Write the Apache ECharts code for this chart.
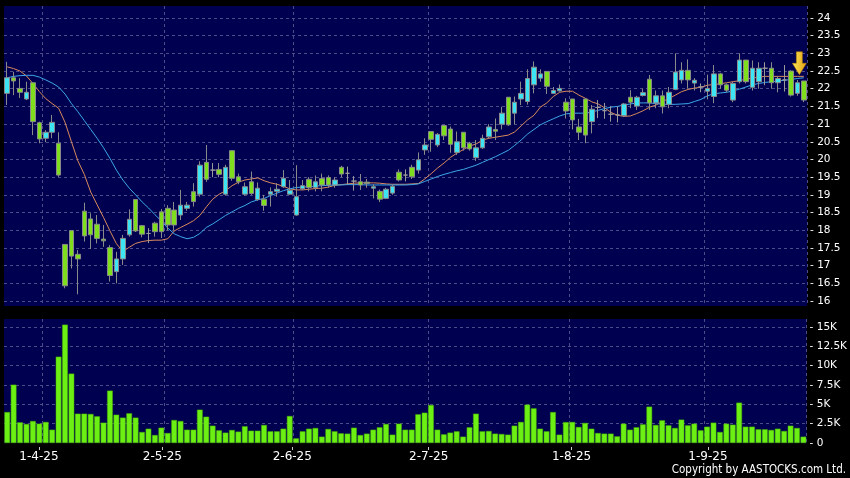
<!DOCTYPE html>
<html><head><meta charset="utf-8">
<script src="https://cdn.jsdelivr.net/npm/echarts@6/dist/echarts.min.js"></script>
<style>html,body{margin:0;padding:0;background:#000;}#c{width:850px;height:478px;}</style>
</head><body><div id="c"></div>
<script>
const dates = [
'24-3-25','25-3-25','26-3-25','27-3-25','28-3-25','31-3-25',
'1-4-25','2-4-25','3-4-25','7-4-25','8-4-25','9-4-25','10-4-25','11-4-25','14-4-25','15-4-25','16-4-25','17-4-25','22-4-25','23-4-25','24-4-25','25-4-25','28-4-25','29-4-25','30-4-25',
'2-5-25','6-5-25','7-5-25','8-5-25','9-5-25','12-5-25','13-5-25','14-5-25','15-5-25','16-5-25','19-5-25','20-5-25','21-5-25','22-5-25','23-5-25','26-5-25','27-5-25','28-5-25','29-5-25','30-5-25',
'2-6-25','3-6-25','4-6-25','5-6-25','6-6-25','9-6-25','10-6-25','11-6-25','12-6-25','13-6-25','16-6-25','17-6-25','18-6-25','19-6-25','20-6-25','23-6-25','24-6-25','25-6-25','26-6-25','27-6-25','30-6-25',
'2-7-25','3-7-25','4-7-25','7-7-25','8-7-25','9-7-25','10-7-25','11-7-25','14-7-25','15-7-25','16-7-25','17-7-25','18-7-25','21-7-25','22-7-25','23-7-25','24-7-25','25-7-25','28-7-25','29-7-25','30-7-25','31-7-25',
'1-8-25','4-8-25','5-8-25','6-8-25','7-8-25','8-8-25','11-8-25','12-8-25','13-8-25','14-8-25','15-8-25','18-8-25','19-8-25','20-8-25','21-8-25','22-8-25','25-8-25','26-8-25','27-8-25','28-8-25','29-8-25',
'1-9-25','2-9-25','3-9-25','4-9-25','5-9-25','8-9-25','9-9-25','10-9-25','11-9-25','12-9-25','15-9-25','16-9-25','17-9-25','18-9-25','19-9-25','22-9-25'
];
const opens = [21.87,22.31,22.01,21.71,22.17,21.04,20.60,20.77,20.46,17.60,17.99,17.32,18.54,18.32,18.17,17.75,17.51,16.83,17.19,17.87,18.87,18.13,17.91,18.20,18.52,
18.62,18.57,18.43,18.62,19.09,19.02,19.92,19.70,19.72,19.02,20.25,19.51,19.02,19.37,18.87,18.88,19.02,19.10,19.23,19.02,
18.43,19.17,19.44,19.21,19.46,19.49,19.28,19.78,19.61,19.39,19.37,19.36,19.19,19.10,18.90,19.05,19.64,19.56,19.78,19.70,20.27,
20.79,20.41,20.96,20.86,20.20,20.77,20.46,20.05,20.33,20.64,20.85,21.00,21.76,21.31,21.71,21.64,22.11,22.30,22.49,21.87,21.94,21.62,
21.71,20.92,21.71,21.07,21.47,21.38,21.28,21.26,21.24,21.76,21.51,21.81,22.27,21.60,21.80,21.56,21.98,22.25,22.52,22.16,22.05,
21.93,21.78,22.42,22.11,21.68,22.20,22.81,22.04,22.20,22.58,22.58,22.17,22.25,22.50,21.87,22.22];
const closes = [22.31,22.22,21.90,21.90,21.07,20.58,20.77,21.05,19.56,16.43,17.27,17.19,17.84,17.87,17.77,17.70,16.72,17.19,17.77,18.31,17.98,17.89,17.91,17.96,17.96,
18.15,18.15,18.71,18.71,18.81,19.84,19.44,19.70,19.58,19.78,19.47,19.37,19.23,19.04,19.19,18.70,19.09,19.16,19.47,19.13,
18.95,19.26,19.21,19.37,19.28,19.28,19.42,19.59,19.61,19.39,19.28,19.32,19.23,18.88,19.16,19.24,19.42,19.56,19.51,19.99,20.41,
20.57,20.71,20.67,20.43,20.50,20.33,20.30,20.33,20.60,20.92,20.80,21.31,20.98,21.62,21.87,22.29,22.61,22.42,22.07,21.95,22.01,21.37,
21.12,20.77,20.69,21.42,21.47,21.38,21.28,21.26,21.57,21.62,21.76,21.89,21.60,21.80,21.49,21.90,22.47,22.52,22.25,22.24,22.05,
22.01,22.42,22.11,21.96,22.15,22.81,22.20,22.58,22.58,22.58,22.17,22.29,22.25,21.82,22.17,21.68];
const lows = [21.54,21.82,21.74,21.68,20.69,20.46,20.49,20.60,19.51,16.36,16.92,16.19,17.68,17.47,17.63,17.53,16.55,16.50,17.02,17.82,17.95,17.80,17.64,17.82,17.78,
18.00,18.00,18.29,18.55,18.67,18.95,19.37,19.50,19.50,18.98,19.40,19.30,18.98,19.00,18.83,18.55,18.67,18.95,19.20,19.00,
18.41,19.14,19.10,19.10,19.10,19.20,19.20,19.50,19.28,19.12,19.14,19.20,18.90,18.80,18.88,19.00,19.38,19.38,19.45,19.60,20.13,
20.22,20.35,20.55,20.19,20.13,20.25,20.25,19.96,20.30,20.60,20.55,20.85,20.95,21.00,21.54,21.55,21.87,22.20,21.85,21.85,21.92,21.16,
20.85,20.55,20.46,20.74,21.17,21.15,21.07,21.05,21.20,21.45,21.40,21.78,21.40,21.45,21.30,21.45,21.96,22.15,22.00,21.95,21.90,
21.70,21.59,22.00,21.90,21.62,22.15,22.15,21.95,22.00,22.10,22.00,21.90,21.92,21.78,21.80,21.62];
const highs = [22.76,22.48,22.30,22.20,22.19,21.07,20.83,21.26,20.77,17.60,17.99,17.44,18.78,18.48,18.43,18.15,17.58,17.39,17.87,18.59,18.87,18.15,18.06,18.24,18.60,
18.71,18.80,19.14,18.80,19.33,19.95,20.41,19.90,19.90,19.85,20.25,19.60,19.35,19.66,19.35,19.00,19.21,19.33,19.70,19.42,
19.84,19.42,19.50,19.55,19.60,19.55,19.50,19.82,19.80,19.53,19.59,19.45,19.30,19.15,19.20,19.30,19.72,19.72,19.85,20.20,20.60,
20.80,20.75,20.98,20.93,20.79,20.77,20.50,20.55,20.70,21.00,21.16,21.49,21.76,21.78,22.20,22.55,22.77,22.55,22.50,22.05,22.12,21.73,
21.71,21.15,21.72,21.54,21.68,21.60,21.50,21.50,21.60,21.96,21.80,22.00,22.39,21.95,21.95,22.05,23.00,22.75,22.83,22.30,22.15,
22.40,22.67,22.45,22.15,22.20,23.00,22.81,22.80,22.75,22.75,22.75,22.35,22.67,22.52,22.25,22.22];
const ma10 = [22.62,22.57,22.50,22.36,22.15,21.92,21.72,21.58,21.45,21.05,20.50,19.96,19.58,19.08,18.72,18.36,17.98,17.62,17.40,17.52,17.63,17.68,17.71,17.72,17.72,
17.76,17.98,18.08,18.17,18.27,18.42,18.66,18.88,19.02,19.12,19.26,19.36,19.42,19.45,19.48,19.40,19.34,19.30,19.24,19.17,
19.14,19.14,19.16,19.18,19.19,19.22,19.27,19.29,19.31,19.33,19.34,19.34,19.34,19.33,19.31,19.30,19.30,19.30,19.31,19.32,19.45,
19.60,19.76,19.90,20.06,20.18,20.28,20.38,20.44,20.55,20.60,20.63,20.66,20.69,20.78,20.95,21.12,21.25,21.48,21.60,21.78,21.90,21.93,
21.93,21.82,21.73,21.63,21.57,21.46,21.33,21.25,21.22,21.23,21.30,21.38,21.48,21.54,21.64,21.72,21.82,21.92,21.98,22.02,22.04,
22.10,22.12,22.14,22.17,22.20,22.23,22.27,22.30,22.33,22.35,22.35,22.35,22.35,22.35,22.35,22.35];
const ma20 = [22.31,22.35,22.37,22.38,22.38,22.33,22.25,22.16,22.05,21.85,21.58,21.35,21.10,20.85,20.60,20.33,20.03,19.70,19.42,19.19,19.00,18.80,18.63,18.44,18.26,
18.06,17.90,17.82,17.76,17.80,17.91,18.08,18.18,18.30,18.42,18.52,18.62,18.70,18.80,18.86,18.90,18.98,19.05,19.12,19.17,
19.21,19.22,19.23,19.25,19.26,19.27,19.28,19.28,19.29,19.29,19.29,19.28,19.28,19.28,19.28,19.28,19.28,19.28,19.29,19.31,19.38,
19.45,19.52,19.58,19.63,19.68,19.72,19.78,19.84,19.92,20.00,20.08,20.17,20.26,20.40,20.55,20.72,20.85,20.98,21.07,21.15,21.23,21.29,
21.31,21.31,21.31,21.34,21.39,21.44,21.48,21.50,21.54,21.57,21.60,21.60,21.60,21.58,21.56,21.56,21.56,21.57,21.58,21.64,21.70,
21.80,21.86,21.88,21.90,21.94,21.99,22.05,22.11,22.15,22.18,22.20,22.22,22.24,22.26,22.29,22.31];
const volumesK = [4.0,7.54,2.67,2.46,2.84,2.5,2.72,1.72,11.16,15.3,8.97,3.79,3.79,3.75,3.45,2.63,6.77,3.66,3.28,3.84,3.28,1.42,1.85,1.03,1.98,
1.29,2.97,2.84,1.72,1.72,4.31,3.4,2.24,1.64,1.34,1.68,1.47,2.16,1.59,1.59,2.33,1.51,1.51,1.85,3.49,
0.6,1.51,1.85,1.94,0.82,1.81,1.51,1.25,1.21,1.98,1.03,1.21,1.72,2.03,2.46,1.08,2.5,1.72,1.72,3.71,3.92,
4.91,1.72,1.12,1.34,1.51,0.82,2.03,3.79,1.51,1.55,1.21,1.16,1.08,2.24,2.72,4.96,4.48,1.85,1.51,4.0,1.08,2.7,
2.72,2.07,2.59,1.85,1.29,1.21,1.21,0.86,2.5,1.72,2.03,2.41,4.7,2.33,2.93,2.28,1.94,3.02,2.28,2.5,1.64,
2.11,2.63,1.42,2.5,2.37,5.22,2.11,2.11,1.77,1.77,1.68,1.85,1.55,2.24,1.94,0.82];
const priceTicks = {min: 15.859, max: 24.339, step: 0.5};
const volTicks = {min: 0, max: 16.03, step: 2.5};
const arrowAt = {index: 123, price: 22.72};
const copyright = 'Copyright by AASTOCKS.com Ltd.';

const candleData = opens.map((o, i) => [o, closes[i], lows[i], highs[i]]);
const monthOf = d => d.split('-')[1];
const monthStart = dates.map((d, i) => i > 0 && monthOf(d) !== monthOf(dates[i - 1]));
const onStep = (v, s) => Math.abs(v / s - Math.round(v / s)) < 1e-6;
const gridLine = {show: true, lineStyle: {color: '#4c4c88', type: [3, 3], width: 1}};
const vSplit = {show: true, interval: (i) => !!monthStart[i], lineStyle: gridLine.lineStyle};
const labelFont = {color: '#ffffff', fontFamily: 'DejaVu Sans'};

const chart = echarts.init(document.getElementById('c'), null, {renderer: 'canvas'});
chart.setOption({
  backgroundColor: '#000000',
  animation: false,
  grid: [
    {left: 4, right: 43, top: 6, height: 300, show: true, backgroundColor: '#000050', borderWidth: 0},
    {left: 4, right: 43, top: 319, height: 124, show: true, backgroundColor: '#000050', borderWidth: 0},
    {left: 0, right: 44.6, top: 446, height: 1}
  ],
  xAxis: [
    {type: 'category', gridIndex: 0, data: dates, boundaryGap: true, axisLine: {show: false}, axisTick: {show: false}, axisLabel: {show: false}, splitLine: vSplit},
    {type: 'category', gridIndex: 1, data: dates, boundaryGap: true, axisLine: {show: false}, axisTick: {show: false}, axisLabel: {show: false}, splitLine: vSplit},
    {type: 'category', gridIndex: 2, data: dates, boundaryGap: false, axisLine: {show: false},
     axisTick: {show: true, interval: (i) => !!monthStart[i], length: 3, lineStyle: {color: '#cccccc'}},
     axisLabel: Object.assign({interval: (i) => !!monthStart[i], fontSize: 12, margin: 4}, labelFont),
     splitLine: {show: false}}
  ],
  yAxis: [
    {type: 'value', gridIndex: 0, position: 'right', min: priceTicks.min, max: priceTicks.max,
     minInterval: priceTicks.step, maxInterval: priceTicks.step,
     axisLine: {show: false}, axisTick: {show: false},
     axisLabel: Object.assign({fontSize: 10.5, margin: 3, formatter: v => onStep(v, priceTicks.step) ? '- ' + v : ''}, labelFont),
     splitLine: Object.assign({showMinLine: false, showMaxLine: false}, gridLine)},
    {type: 'value', gridIndex: 1, position: 'right', min: volTicks.min, max: volTicks.max,
     minInterval: volTicks.step, maxInterval: volTicks.step,
     axisLine: {show: false}, axisTick: {show: false},
     axisLabel: Object.assign({fontSize: 10.5, margin: 3, formatter: v => onStep(v, volTicks.step) ? (v === 0 ? '- 0' : '- ' + v + 'K') : ''}, labelFont),
     splitLine: Object.assign({showMinLine: false, showMaxLine: false}, gridLine)},
    {type: 'value', gridIndex: 2, show: false}
  ],
  series: [
    {name: 'MA10', type: 'line', xAxisIndex: 0, yAxisIndex: 0, data: ma10, symbol: 'none', smooth: false,
     lineStyle: {color: '#d98a5c', width: 1}, z: 2},
    {name: 'MA20', type: 'line', xAxisIndex: 0, yAxisIndex: 0, data: ma20, symbol: 'none', smooth: false,
     lineStyle: {color: '#3ca8e8', width: 1}, z: 2},
    {name: 'Price', type: 'candlestick', xAxisIndex: 0, yAxisIndex: 0, data: candleData, barWidth: 5, z: 3,
     itemStyle: {color: '#3ce4f4', color0: '#7ede1e', borderColor: '#8a8a8a', borderColor0: '#8a8a8a', borderColorDoji: '#9a9a9a', borderWidth: 1},
     markPoint: {
       silent: true,
       symbol: 'path://M4,0 L10,0 L10,11 L14,11 L7,22 L0,11 L4,11 Z',
       symbolSize: [14, 23], symbolKeepAspect: false, symbolOffset: [2, 0],
       label: {show: false},
       itemStyle: {color: new echarts.graphic.LinearGradient(0, 0, 1, 0, [{offset: 0, color: '#ffe85a'}, {offset: 1, color: '#e0a010'}]), borderColor: '#b88000', borderWidth: 0.5},
       data: [{coord: [arrowAt.index, arrowAt.price]}]
     }},
    {name: 'Volume', type: 'bar', xAxisIndex: 1, yAxisIndex: 1, data: volumesK, barWidth: '88%',
     itemStyle: {color: '#6cf014', borderColor: '#48b000', borderWidth: 0.5}}
  ],
  graphic: [
    {type: 'text', right: 4, top: 464, style: {text: copyright, fill: '#ffffff', fontSize: 11.5, fontFamily: 'DejaVu Sans Condensed'}}
  ]
});
</script>
</body></html>
